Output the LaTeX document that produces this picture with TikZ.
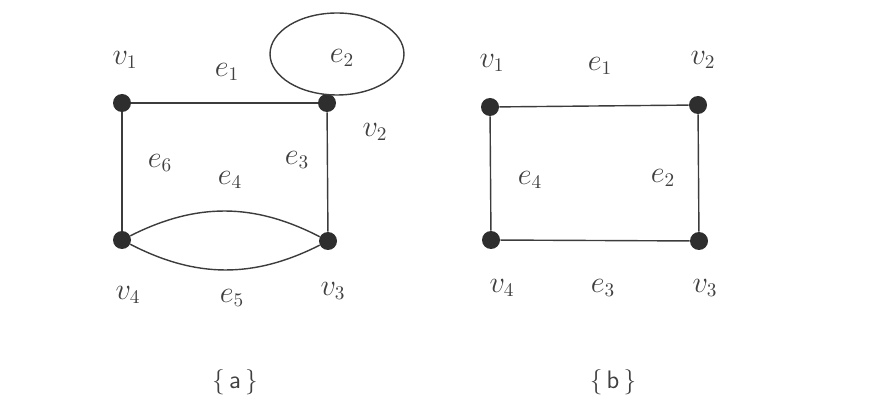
\documentclass[tikz,border=0pt]{standalone}
\usepackage{amsmath,amssymb}
\usepackage{tikz}
\usetikzlibrary{positioning,calc}
\usepackage{xcolor}
\definecolor{edgegray}{HTML}{3C3C3C}
\definecolor{dotgray}{HTML}{2E2E2E}
\definecolor{labgray}{HTML}{404040}

\begin{document}
\begin{tikzpicture}[x=0.02cm,y=-0.02cm,
  every node/.style={font=\fontsize{16}{19}\selectfont,text=labgray},
  vertex/.style={circle,fill=dotgray,inner sep=0pt,minimum size=0.36cm},
  edge/.style={draw=edgegray,line width=0.8pt},
  caption/.style={font=\sffamily\Large,text=labgray}]
\useasboundingbox (0,0) rectangle (882,398);
% graph (a)
\node[vertex] (a1) at (122,103) {};
\node[vertex] (a2) at (327,103) {};
\node[vertex] (a3) at (328,241) {};
\node[vertex] (a4) at (122,240) {};
\coordinate (aloop) at (337,54);
\draw[edge] (a1) -- (a2);
\draw[edge] (a2) -- (a3);
\draw[edge] (a1) -- (a4);
\draw[edge] (aloop) ellipse [x radius=1.34cm,y radius=0.82cm];
\draw[edge] (a4) to[bend left=27] (a3);
\draw[edge] (a4) to[bend right=27] (a3);
\node (la1) at (125,60) {$v_1$};
\node (la2) at (375,132) {$v_2$};
\node (la3) at (333,291) {$v_3$};
\node (la4) at (128,295) {$v_4$};
\node (ea1) at (227,72) {$e_1$};
\node (ea2) at (342,58) {$e_2$};
\node (ea3) at (297,160) {$e_3$};
\node (ea4) at (230,180) {$e_4$};
\node (ea5) at (232,298) {$e_5$};
\node (ea6) at (160,163) {$e_6$};
\node[caption] (capa) at (235,382) {\{\,a\,\}};
% graph (b)
\node[vertex] (b1) at (490,107) {};
\node[vertex] (b2) at (698,105) {};
\node[vertex] (b3) at (699,241) {};
\node[vertex] (b4) at (491,240) {};
\draw[edge] (b1) -- (b2) -- (b3) -- (b4) -- (b1);
\node (lb1) at (492,63) {$v_1$};
\node (lb2) at (703,60) {$v_2$};
\node (lb3) at (705,288) {$v_3$};
\node (lb4) at (502,288) {$v_4$};
\node (eb1) at (600,66) {$e_1$};
\node (eb2) at (663,178) {$e_2$};
\node (eb3) at (603,288) {$e_3$};
\node (eb4) at (530,180) {$e_4$};
\node[caption] (capb) at (613,382) {\{\,b\,\}};
\end{tikzpicture}
\end{document}
